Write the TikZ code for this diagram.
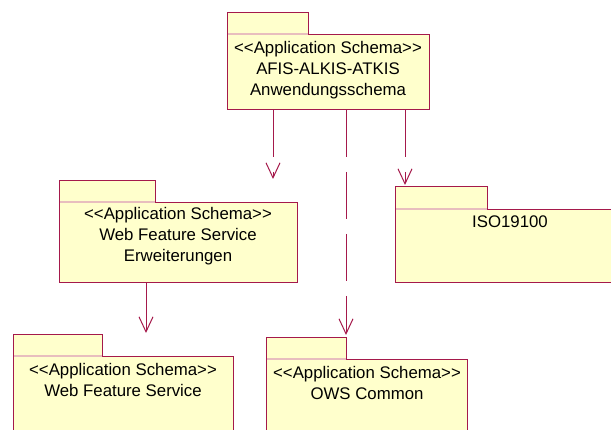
\documentclass[tikz,border=0pt]{standalone}
\usepackage{fontspec}
\setmainfont{Liberation Sans}[Ligatures=TeXOff]
\usetikzlibrary{arrows.meta}
\definecolor{umlline}{RGB}{165,25,75}
\definecolor{umlfill}{RGB}{255,255,204}
\definecolor{tabline}{RGB}{232,190,190}
\tikzset{
  pkgbody/.style={draw=umlline, fill=umlfill, line width=1pt, inner sep=0pt, anchor=north west},
  pkgtab/.style={draw=umlline, fill=umlfill, line width=1pt, inner sep=0pt, anchor=north west},
  tabsep/.style={draw=tabline, line width=1.3pt},
  pkgtext/.style={align=center, inner sep=0pt, font=\fontsize{16.8pt}{21pt}\selectfont, text=black},
  dep/.style={draw=umlline, line width=1pt, dash pattern=on 47pt off 15pt,
    -{Straight Barb[length=15pt, width=14pt, line width=1pt]}},
  dir/.style={draw=umlline, line width=1pt,
    -{Straight Barb[length=15pt, width=14pt, line width=1pt]}}
}
\begin{document}
\begin{tikzpicture}[x=1pt,y=-1pt]
\useasboundingbox (0,0) rectangle (611,430);
\clip (0,0) rectangle (611,430);
% top package
\node[pkgtab, minimum width=81pt, minimum height=22pt] (toptab) at (227,12) {};
\node[pkgbody, minimum width=202pt, minimum height=75pt] (top) at (227,34) {};
\draw[tabsep] (228,34) -- (307.5,34);
\node[pkgtext] (toptext) at (328,70) {<<Application Schema>>\\AFIS-ALKIS-ATKIS\\Anwendungsschema};
% Erweiterungen
\node[pkgtab, minimum width=96pt, minimum height=22pt] (erwtab) at (59,180) {};
\node[pkgbody, minimum width=238pt, minimum height=80pt] (erw) at (59,202) {};
\draw[tabsep] (60,202) -- (154.5,202);
\node[pkgtext] (erwtext) at (178,236) {<<Application Schema>>\\Web Feature Service\\Erweiterungen};
% ISO19100
\node[pkgtab, minimum width=92pt, minimum height=23pt] (isotab) at (395,186) {};
\node[pkgbody, minimum width=230pt, minimum height=73pt] (iso) at (395,209) {};
\draw[tabsep] (396,209) -- (486.5,209);
\node[pkgtext] (isotext) at (510,222) {ISO19100};
% WFS
\node[pkgtab, minimum width=89pt, minimum height=22pt] (wfstab) at (13,334) {};
\node[pkgbody, minimum width=220pt, minimum height=90pt] (wfs) at (13,356) {};
\draw[tabsep] (14,356) -- (101.5,356);
\node[pkgtext] (wfstext) at (123,380) {<<Application Schema>>\\Web Feature Service};
% OWS
\node[pkgtab, minimum width=80pt, minimum height=22pt] (owstab) at (266,337) {};
\node[pkgbody, minimum width=201pt, minimum height=90pt] (ows) at (266,359) {};
\draw[tabsep] (267,359) -- (345.5,359);
\node[pkgtext] (owstext) at (367,383) {<<Application Schema>>\\OWS Common};
% connectors
\coordinate (erwtip) at (273,179);
\coordinate (owstip) at (346,335);
\coordinate (isotip) at (405,185);
\coordinate (wfstip) at (146,333);
\draw[dep] (top.south -| erwtip) -- (erwtip);
\draw[dep] (top.south -| owstip) -- (owstip);
\draw[dep] (top.south -| isotip) -- (isotip);
\draw[dir] (erw.south -| wfstip) -- (wfstip);
\end{tikzpicture}
\end{document}
